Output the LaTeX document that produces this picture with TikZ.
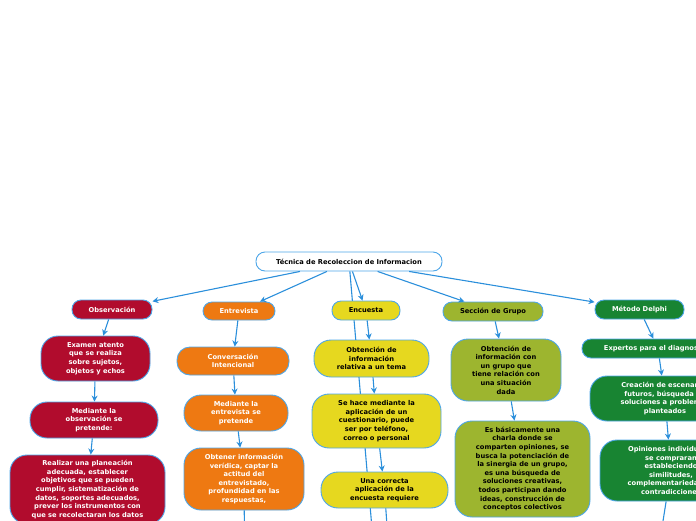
\documentclass[tikz,border=0pt]{standalone}
\usepackage{fontspec}
\setmainfont{DejaVu Sans}
\usepackage{tikz}
\usetikzlibrary{arrows.meta}
\definecolor{rojo}{HTML}{B10C2D}
\definecolor{naranja}{HTML}{EE7912}
\definecolor{amarillo}{HTML}{E6D81F}
\definecolor{oliva}{HTML}{9DB52F}
\definecolor{verde}{HTML}{188432}
\definecolor{borde}{HTML}{4DA6E8}
\definecolor{flecha}{HTML}{2B8FDB}
\tikzset{every edge/.style={draw, flecha, line width=1.1pt}}
\tikzset{
  caja/.style={draw=borde, line width=0.9pt, align=center, inner sep=1pt,
    rounded corners=17pt, font=\fontsize{6.7}{8.6}\selectfont\bfseries},
  rama/.style={caja, rounded corners=9pt, minimum height=19pt},
  claro/.style={text=white},
}

\begin{document}
\begin{tikzpicture}[x=1pt, y=-1pt, >={Stealth[length=6pt, width=6pt]}]
    \useasboundingbox (0, 0) rectangle (696, 520);
    \clip (0, 0) rectangle (696, 520);
    \node[rama, fill=white, minimum width=186pt] at (349, 261.5) (root) {T\'ecnica de Recoleccion de Informacion};
    % linea larga detras de la encuesta
    \coordinate (encpie) at (373, 540);
    \draw (root) edge (encpie);

    % primer nivel
    \node[rama, fill=rojo, claro, minimum width=80pt] at (112, 309.5) (obs) {Observación};
    \node[rama, fill=naranja, claro, minimum width=72pt, minimum height=18pt] at (239, 311) (ent) {Entrevista};
    \node[rama, fill=amarillo, minimum width=68pt] at (366, 310.5) (enc) {Encuesta};
    \node[rama, fill=oliva, minimum width=100pt] at (493, 311.5) (sec) {Sección de Grupo};
    \node[rama, fill=verde, claro, minimum width=89pt] at (639.5, 309.5) (del) {Método Delphi};

    \draw (root) edge[->] (obs);
    \draw (root) edge[->] (ent);
    \draw (root) edge[->] (enc);
    \draw (root) edge[->] (sec);
    \draw (root) edge[->] (del);

    % observacion
    \node[caja, fill=rojo, claro, minimum width=109pt, minimum height=45pt] at (95.5, 358.5) (obs1) {Examen atento\\que se realiza\\sobre sujetos,\\objetos y echos};
    \node[caja, fill=rojo, claro, minimum width=128pt, minimum height=36pt] at (94, 420) (obs2) {Mediante la\\observación se\\pretende:};
    \node[caja, fill=rojo, claro, minimum width=155pt, minimum height=69pt] at (87.5, 489.5) (obs3) {Realizar una planeación\\adecuada, establecer\\objetivos que se pueden\\cumplir, sistematización de\\datos, soportes adecuados,\\prever los instrumentos con\\que se recolectaran los datos};
    \draw (obs) edge[->] (obs1);
    \draw (obs1) edge[->] (obs2);
    \draw (obs2) edge[->] (obs3);

    % entrevista
    \node[caja, fill=naranja, claro, rounded corners=13pt, minimum width=112pt, minimum height=28pt] at (233, 361) (ent1) {Conversación\\Intencional};
    \node[caja, fill=naranja, claro, minimum width=104pt, minimum height=36pt] at (236, 413) (ent2) {Mediante la\\entrevista se\\pretende};
    \node[caja, fill=naranja, claro, minimum width=120pt, minimum height=62pt] at (244, 479) (ent3) {Obtener información\\verídica, captar la\\actitud del\\entrevistado,\\profundidad en las\\respuestas,};
    \coordinate (entpie) at (244.5, 540);
    \draw (ent) edge[->] (ent1);
    \draw (ent1) edge[->] (ent2);
    \draw (ent2) edge[->] (ent3);
    \draw (ent3) edge (entpie);

    % encuesta
    \node[caja, fill=amarillo, minimum width=115pt, minimum height=37pt] at (371.5, 358.5) (enc1) {Obtención de\\información\\relativa a un tema};
    \node[caja, fill=amarillo, minimum width=129pt, minimum height=54pt] at (376.5, 421) (enc2) {Se hace mediante la\\aplicación de un\\cuestionario, puede\\ser por teléfono,\\correo o personal};
    \node[caja, fill=amarillo, minimum width=127pt, minimum height=36pt] at (384.5, 490) (enc3) {Una correcta\\aplicación de la\\encuesta requiere};
    \coordinate (enc3pie) at (388, 540);
    \draw (enc) edge[->] (enc1);
    \draw (enc1) edge[->] (enc2);
    \draw (enc2) edge[->] (enc3);
    \draw (enc3) edge (enc3pie);

    % seccion de grupo
    \node[caja, fill=oliva, minimum width=110pt, minimum height=62pt] at (506, 370) (sec1) {Obtención de\\información con\\un grupo que\\tiene relación con\\una situación\\dada};
    \node[caja, fill=oliva, minimum width=135pt, minimum height=96pt] at (522.5, 469) (sec2) {Es básicamente una\\charla donde se\\comparten opiniones, se\\busca la potenciación de\\la sinergia de un grupo,\\es una búsqueda de\\soluciones creativas,\\todos participan dando\\ideas, construcción de\\conceptos colectivos};
    \draw (sec) edge[->] (sec1);
    \draw (sec1) edge[->] (sec2);

    % metodo delphi
    \node[rama, fill=verde, claro, minimum width=152pt] at (658, 348.5) (del1) {Expertos para el diagnostico};
    \node[caja, fill=verde, claro, minimum width=150pt, minimum height=45pt] at (665, 398.5) (del2) {Creación de escenarios\\futuros, búsqueda de\\soluciones a problemas\\planteados};
    \node[caja, fill=verde, claro, minimum width=142pt, minimum height=61pt] at (671, 470.5) (del3) {Opiniones individuales\\se compraran\\estableciendo\\similitudes,\\complementariedades,\\contradicciones};
    \coordinate (delpie) at (660, 540);
    \draw (del) edge[->] (del1);
    \draw (del1) edge[->] (del2);
    \draw (del2) edge[->] (del3);
    \draw (del3) edge (delpie);
\end{tikzpicture}
\end{document}
